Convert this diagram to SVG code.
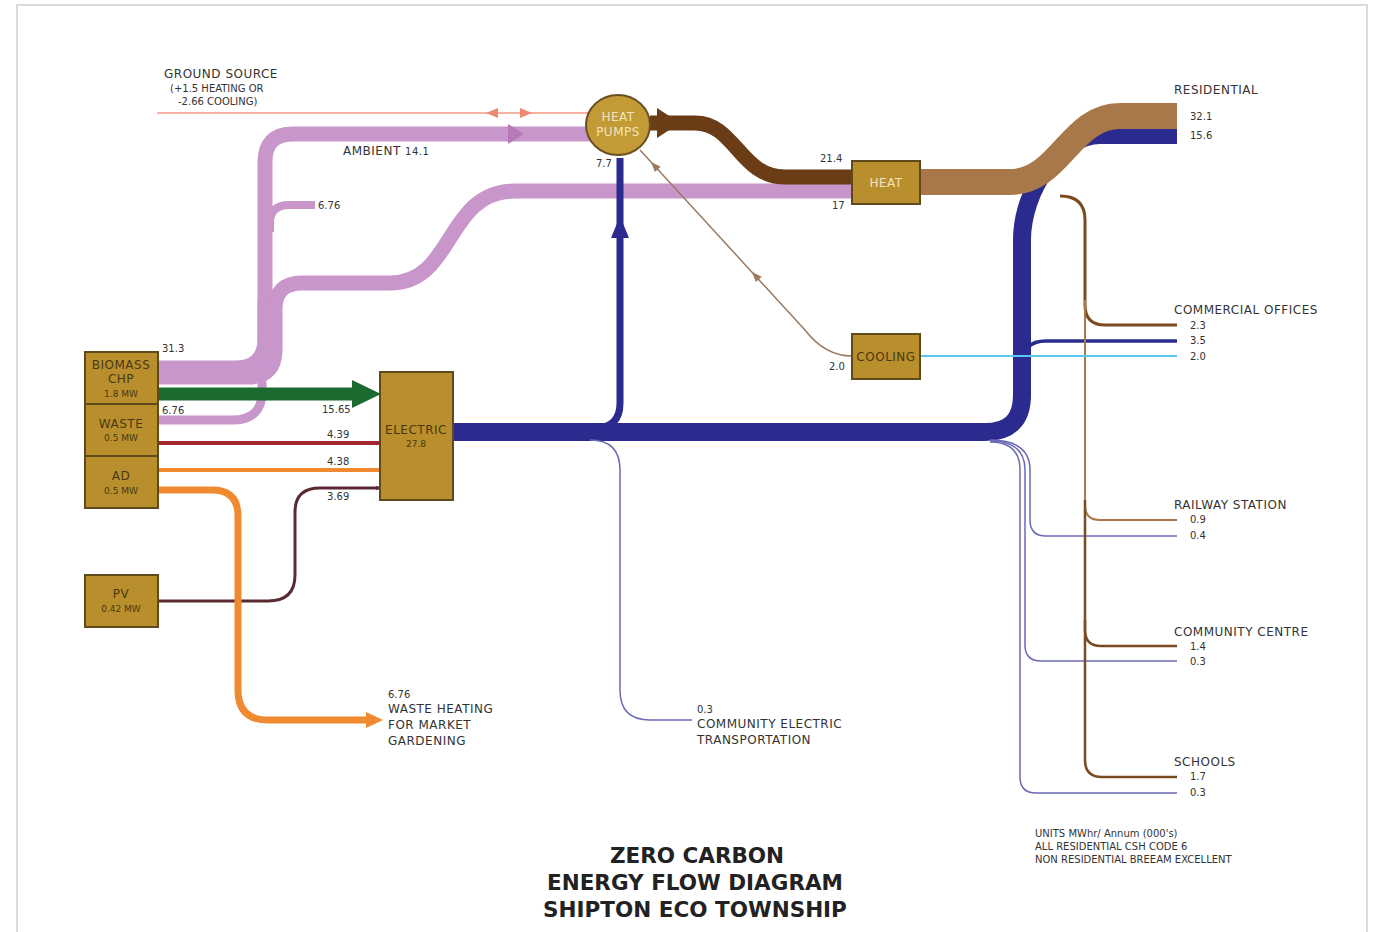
<svg xmlns="http://www.w3.org/2000/svg" width="1373" height="932" viewBox="0 0 1373 932">
<style>
.t{font-family:"DejaVu Sans",Verdana,sans-serif;font-size:12px;letter-spacing:0.5px;fill:#333}
.s{font-family:"DejaVu Sans",Verdana,sans-serif;font-size:10px;fill:#333}
.m{font-family:"DejaVu Sans",Verdana,sans-serif;font-size:10px;fill:#333}
.n{font-family:"DejaVu Sans",Verdana,sans-serif;font-size:12px;letter-spacing:0.5px;fill:#4a3810;text-anchor:middle}
.ns{font-family:"DejaVu Sans",Verdana,sans-serif;font-size:9px;fill:#4a3810;text-anchor:middle}
.nl{font-family:"DejaVu Sans",Verdana,sans-serif;font-size:12px;letter-spacing:0.5px;fill:#f3e4bf;text-anchor:middle}
.ti{font-family:"DejaVu Sans",Verdana,sans-serif;font-size:21.5px;font-weight:bold;fill:#222;text-anchor:middle}
.box{fill:#b98f2d;stroke:#5e4a1c;stroke-width:2}
.f{fill:none}
</style>
<defs>
<marker id="ar" viewBox="0 0 10 10" refX="9" refY="5" markerWidth="5" markerHeight="5" orient="auto" markerUnits="userSpaceOnUse"><path d="M0,0 L10,5 L0,10 z" fill="context-stroke"/></marker>
</defs>
<rect x="17" y="5" width="1350" height="930" fill="#fff" stroke="#cfcfcf" stroke-width="1.5"/>

<g id="connectors">
  <line x1="157" y1="113" x2="590" y2="113" stroke="#f6b3a3" stroke-width="2"/>
  <path d="M498,108 L486,113 L498,118 z" fill="#ee8870"/>
  <path d="M520,108 L532,113 L520,118 z" fill="#ee8870"/>
  <path class="f" d="M158,420 H232 Q262,420 262,392 V300" stroke="#c996cc" stroke-width="9"/>
  <path class="f" d="M158,368 H235 Q265,368 265,338 V162 Q265,134 293,134 H592" stroke="#c996cc" stroke-width="15"/>
  <path d="M508,124 L524,134 L508,144 z" fill="#b67ab9"/>
  <path class="f" d="M270,232 V222 Q270,205 290,205 H315" stroke="#c996cc" stroke-width="8"/>
  <path class="f" d="M158,377 H248 Q275,377 275,350 V310 Q275,283 302,283 H390 C455,283 445,191 515,191 H853" stroke="#c996cc" stroke-width="15"/>
  <line x1="158" y1="394" x2="356" y2="394" stroke="#1b6b31" stroke-width="13"/>
  <path d="M352,380 L381,394 L352,408 z" fill="#1b6b31"/>
  <line x1="158" y1="443" x2="380" y2="443" stroke="#a3282d" stroke-width="4" marker-end="url(#ar)"/>
  <line x1="158" y1="470" x2="380" y2="470" stroke="#f08a30" stroke-width="4" marker-end="url(#ar)"/>
  <path class="f" d="M158,601 H268 Q295,601 295,575 V512 Q295,488 320,488 H380" stroke="#5a2a33" stroke-width="3" marker-end="url(#ar)"/>
  <path class="f" d="M158,490 H212 Q238,490 238,516 V690 Q238,720 268,720 H370" stroke="#f08a30" stroke-width="7"/>
  <path d="M366,712 L383,720 L366,728 z" fill="#f08a30"/>
  <path class="f" d="M453,432 H985 Q1022,432 1022,395 V240 C1022,190 1060,135 1100,135 H1177" stroke="#2b2b8f" stroke-width="18"/>
  <path class="f" d="M560,428 H595 Q620,428 620,403 V158" stroke="#2b2b8f" stroke-width="7"/>
  <path d="M611,238 L620,216 L629,238 z" fill="#2b2b8f"/>
  <path class="f" d="M590,440 Q620,440 620,470 V690 Q620,720 650,720 H692" stroke="#6a6ab6" stroke-width="1.5"/>
  <path class="f" d="M1022,365 Q1022,341 1046,341 H1177" stroke="#2b2b8f" stroke-width="3.5"/>
  <path class="f" d="M990,440 Q1030,440 1030,470 V520 Q1030,536 1046,536 H1177" stroke="#6a6ab6" stroke-width="1.5"/>
  <path class="f" d="M990,441 Q1025,441 1025,470 V645 Q1025,661 1041,661 H1177" stroke="#6a6ab6" stroke-width="1.5"/>
  <path class="f" d="M990,442 Q1020,442 1020,470 V777 Q1020,793 1036,793 H1177" stroke="#6a6ab6" stroke-width="1.5"/>
  <path class="f" d="M650,123 H695 C735,123 740,177 785,177 H853" stroke="#6b3d17" stroke-width="15"/>
  <path d="M657,108 L680,123 L657,138 z" fill="#6b3d17"/>
  <path class="f" d="M920,182 H1010 C1060,182 1070,116 1120,116 H1177" stroke="#a8784b" stroke-width="26"/>
  <path class="f" d="M1060,196 Q1085,196 1085,220 V305 Q1085,325 1105,325 H1177" stroke="#7a4a20" stroke-width="3"/>
  <path class="f" d="M1085,300 V505 Q1085,520 1100,520 H1177" stroke="#a8784b" stroke-width="2"/>
  <path class="f" d="M1085,500 V630 Q1085,646 1101,646 H1177" stroke="#7a4a20" stroke-width="2.5"/>
  <path class="f" d="M1085,620 V760 Q1085,777 1102,777 H1177" stroke="#7a4a20" stroke-width="2.5"/>
  <line x1="920" y1="356" x2="1177" y2="356" stroke="#5ac8f0" stroke-width="2"/>
  <path class="f" d="M852,356 Q825,356 805,330 L640,150" stroke="#9a7a60" stroke-width="1.5"/>
  <path d="M752,272 L761.7,276.7 L755.8,282.1 z" fill="#9a7a60"/>
  <path d="M651,162 L660.7,166.7 L654.9,172.1 z" fill="#9a7a60"/>
</g>

<g id="biomass"><rect class="box" x="85" y="352" width="73" height="52"/><text class="n" x="121" y="369">BIOMASS</text><text class="n" x="121" y="383">CHP</text><text class="ns" x="121" y="397">1.8 MW</text></g>
<g id="waste"><rect class="box" x="85" y="404" width="73" height="52"/><text class="n" x="121" y="428">WASTE</text><text class="ns" x="121" y="441">0.5 MW</text></g>
<g id="ad"><rect class="box" x="85" y="456" width="73" height="52"/><text class="n" x="121" y="480">AD</text><text class="ns" x="121" y="494">0.5 MW</text></g>
<g id="pv"><rect class="box" x="85" y="575" width="73" height="52"/><text class="n" x="121" y="598">PV</text><text class="ns" x="121" y="612">0.42 MW</text></g>
<g id="electric"><rect class="box" x="380" y="372" width="73" height="128"/><text class="n" x="416" y="434">ELECTRIC</text><text class="ns" x="416" y="447">27.8</text></g>
<g id="heat-pumps"><ellipse cx="618" cy="125" rx="32" ry="30" fill="#c29a36" stroke="#6a5020" stroke-width="2"/><text class="nl" x="618" y="121" font-size="11">HEAT</text><text class="nl" x="618" y="136" font-size="11">PUMPS</text></g>
<g id="heat"><rect class="box" x="852" y="161" width="68" height="43"/><text class="nl" x="886" y="187">HEAT</text></g>
<g id="cooling"><rect class="box" x="852" y="334" width="68" height="45"/><text class="n" x="886" y="361">COOLING</text></g>

<g id="labels">
  <text class="t" x="164" y="78">GROUND SOURCE</text>
  <text class="s" x="170" y="92">(+1.5 HEATING OR</text>
  <text class="s" x="178" y="105">-2.66 COOLING)</text>
  <text class="t" x="343" y="155">AMBIENT <tspan font-size="10">14.1</tspan></text>
  <text class="s" x="318" y="209">6.76</text>
  <text class="s" x="162" y="352">31.3</text>
  <text class="s" x="162" y="414">6.76</text>
  <text class="s" x="322" y="413">15.65</text>
  <text class="s" x="327" y="438">4.39</text>
  <text class="s" x="327" y="465">4.38</text>
  <text class="s" x="327" y="500">3.69</text>
  <text class="s" x="596" y="167">7.7</text>
  <text class="s" x="820" y="162">21.4</text>
  <text class="s" x="832" y="209">17</text>
  <text class="s" x="829" y="370">2.0</text>
  <text class="s" x="388" y="698">6.76</text>
  <text class="t" x="388" y="713">WASTE HEATING</text>
  <text class="t" x="388" y="729">FOR MARKET</text>
  <text class="t" x="388" y="745">GARDENING</text>
  <text class="s" x="697" y="713">0.3</text>
  <text class="t" x="697" y="728">COMMUNITY ELECTRIC</text>
  <text class="t" x="697" y="744">TRANSPORTATION</text>
  <text class="t" x="1174" y="94">RESIDENTIAL</text>
  <text class="s" x="1190" y="120">32.1</text>
  <text class="s" x="1190" y="139">15.6</text>
  <text class="t" x="1174" y="314">COMMERCIAL OFFICES</text>
  <text class="s" x="1190" y="329">2.3</text>
  <text class="s" x="1190" y="344">3.5</text>
  <text class="s" x="1190" y="360">2.0</text>
  <text class="t" x="1174" y="509">RAILWAY STATION</text>
  <text class="s" x="1190" y="523">0.9</text>
  <text class="s" x="1190" y="539">0.4</text>
  <text class="t" x="1174" y="636">COMMUNITY CENTRE</text>
  <text class="s" x="1190" y="650">1.4</text>
  <text class="s" x="1190" y="665">0.3</text>
  <text class="t" x="1174" y="766">SCHOOLS</text>
  <text class="s" x="1190" y="780">1.7</text>
  <text class="s" x="1190" y="796">0.3</text>
  <text class="m" x="1035" y="837">UNITS MWhr/ Annum (000's)</text>
  <text class="m" x="1035" y="850">ALL RESIDENTIAL CSH CODE 6</text>
  <text class="m" x="1035" y="863">NON RESIDENTIAL BREEAM EXCELLENT</text>
  <text class="ti" x="697" y="863">ZERO CARBON</text>
  <text class="ti" x="695" y="890">ENERGY FLOW DIAGRAM</text>
  <text class="ti" x="695" y="917">SHIPTON ECO TOWNSHIP</text>
</g>
</svg>
